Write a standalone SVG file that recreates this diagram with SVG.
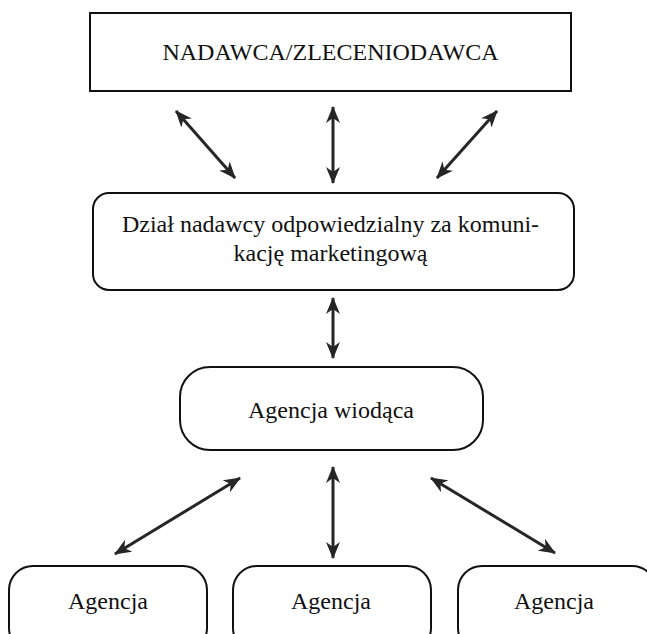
<svg xmlns="http://www.w3.org/2000/svg" width="647" height="634" viewBox="0 0 647 634">
  <style>
    .box { fill: #ffffff; stroke: #111111; stroke-width: 2; }
    .lbl { font-family: "Liberation Serif", "Times New Roman", serif; font-size: 24px; fill: #111111; text-anchor: middle; }
    .conn { stroke: #262626; stroke-width: 3; fill: none; marker-start: url(#ah); marker-end: url(#ah); }
  </style>
  <defs>
    <marker id="ah" viewBox="0 0 17 14" refX="16" refY="7" markerWidth="17" markerHeight="14" markerUnits="userSpaceOnUse" orient="auto-start-reverse">
      <path d="M0,0 L17,7 L0,14 L5,7 Z" fill="#262626"/>
    </marker>
  </defs>
  <rect width="647" height="634" fill="#ffffff"/>

  <g id="node-nadawca">
    <rect class="box" x="90" y="13" width="481" height="78"/>
    <text class="lbl" x="330.5" y="60">NADAWCA/ZLECENIODAWCA</text>
  </g>

  <g id="node-dzial">
    <rect class="box" x="93" y="193" width="481" height="97" rx="16" ry="16"/>
    <text class="lbl" x="330.5" y="232">Dział nadawcy odpowiedzialny za komuni-</text>
    <text class="lbl" x="330.5" y="261">kację marketingową</text>
  </g>

  <g id="node-wiodaca">
    <rect class="box" x="180" y="367" width="303" height="83" rx="30" ry="30"/>
    <text class="lbl" x="331" y="418">Agencja wiodąca</text>
  </g>

  <g id="node-agencja1">
    <rect class="box" x="9" y="566" width="198" height="86" rx="24" ry="24"/>
    <text class="lbl" x="108" y="609">Agencja</text>
  </g>

  <g id="node-agencja2">
    <rect class="box" x="233" y="566" width="198" height="86" rx="24" ry="24"/>
    <text class="lbl" x="331" y="609">Agencja</text>
  </g>

  <g id="node-agencja3">
    <rect class="box" x="458" y="566" width="198" height="86" rx="24" ry="24"/>
    <text class="lbl" x="554" y="609">Agencja</text>
  </g>

  <g id="connectors">
    <line class="conn" x1="176" y1="111" x2="235" y2="178"/>
    <line class="conn" x1="333" y1="107" x2="333" y2="183"/>
    <line class="conn" x1="497" y1="111" x2="437" y2="178"/>
    <line class="conn" x1="333" y1="298" x2="333" y2="358"/>
    <line class="conn" x1="240" y1="478" x2="115" y2="554"/>
    <line class="conn" x1="333" y1="467" x2="333" y2="558"/>
    <line class="conn" x1="431" y1="478" x2="555" y2="553"/>
  </g>
</svg>
